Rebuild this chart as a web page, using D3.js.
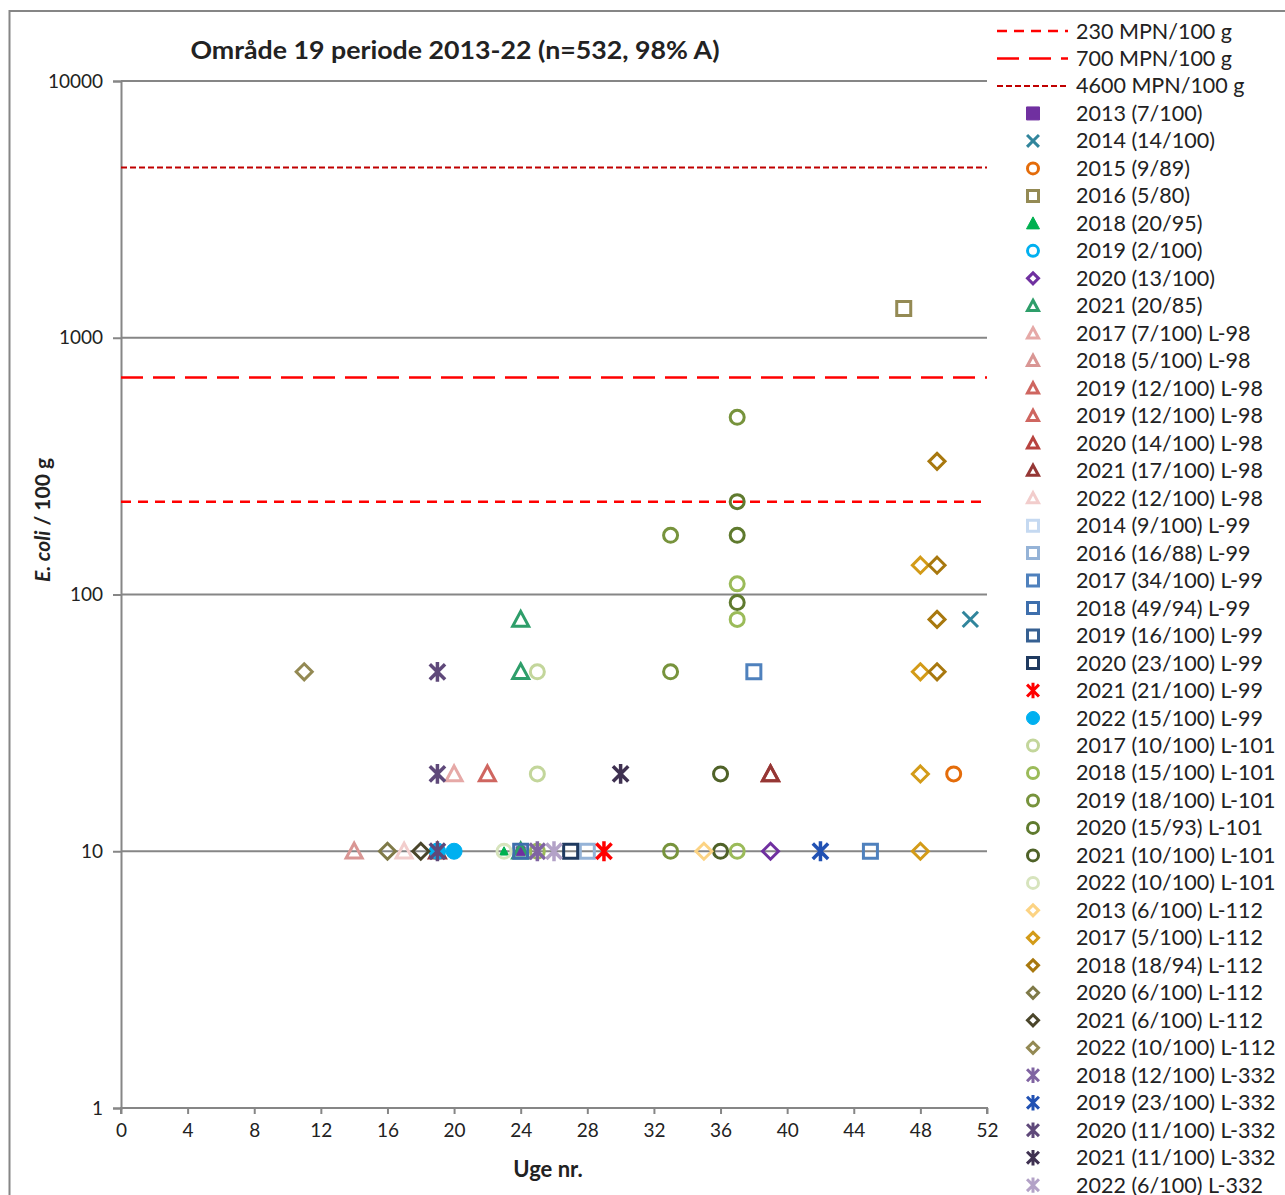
<!DOCTYPE html>
<html>
<head>
<meta charset="utf-8">
<script src="https://cdn.jsdelivr.net/npm/d3@7"></script>
<style>
  body { margin: 0; background: #fff; }
  svg text { font-family: Lato, "Open Sans", sans-serif; fill: #222; }
</style>
</head>
<body>
<svg id="chart" width="1285" height="1195"></svg>
<script>
// threshold lines
var limitLabels = ["230 MPN/100 g", "700 MPN/100 g", "4600 MPN/100 g"];
var limitValues = [230, 700, 4600];

// scatter series (legend order)
var seriesNames = [
  "2013 (7/100)", "2014 (14/100)", "2015 (9/89)", "2016 (5/80)", "2018 (20/95)", "2019 (2/100)",
  "2020 (13/100)", "2021 (20/85)",
  "2017 (7/100) L-98", "2018 (5/100) L-98", "2019 (12/100) L-98", "2019 (12/100) L-98",
  "2020 (14/100) L-98", "2021 (17/100) L-98", "2022 (12/100) L-98",
  "2014 (9/100) L-99", "2016 (16/88) L-99", "2017 (34/100) L-99", "2018 (49/94) L-99",
  "2019 (16/100) L-99", "2020 (23/100) L-99", "2021 (21/100) L-99", "2022 (15/100) L-99",
  "2017 (10/100) L-101", "2018 (15/100) L-101", "2019 (18/100) L-101", "2020 (15/93) L-101",
  "2021 (10/100) L-101", "2022 (10/100) L-101",
  "2013 (6/100) L-112", "2017 (5/100) L-112", "2018 (18/94) L-112", "2020 (6/100) L-112",
  "2021 (6/100) L-112", "2022 (10/100) L-112",
  "2018 (12/100) L-332", "2019 (23/100) L-332", "2020 (11/100) L-332", "2021 (11/100) L-332",
  "2022 (6/100) L-332"
];

var seriesShapes = [
  "squareFill", "x", "circle", "square", "triangleFill", "circle", "diamond", "triangle",
  "triangle", "triangle", "triangle", "triangle", "triangle", "triangle", "triangle",
  "square", "square", "square", "square", "square", "square", "star", "circleFill",
  "circle", "circle", "circle", "circle", "circle", "circle",
  "diamond", "diamond", "diamond", "diamond", "diamond", "diamond",
  "star", "star", "star", "star", "star"
];

var seriesColors = [
  "#7030a0", "#31859c", "#e46c0a", "#948a54", "#00b050", "#00b0f0", "#7030a0", "#2e9e6a",
  "#e6a9a7", "#d99694", "#cf6660", "#cf6660", "#b8433f", "#953735", "#f2cdcc",
  "#c5d9f1", "#95b3d7", "#4f81bd", "#3e6fad", "#366092", "#1f3a60", "#ff0000", "#00b0f0",
  "#c3d69b", "#9bbb59", "#77933c", "#5f7a2e", "#4f6228", "#d7e4bd",
  "#fcd383", "#d39b18", "#a8780e", "#7f7a48", "#4a452a", "#938953",
  "#8064a2", "#2151b3", "#5f497a", "#3f3151", "#b3a2c7"
];

// [week, E. coli per 100 g]
var seriesPoints = [
  [[24, 10]],
  [[51, 80]],
  [[50, 20]],
  [[47, 1300]],
  [[23, 10]],
  [[19, 10]],
  [[39, 10]],
  [[24, 80], [24, 50], [24, 10]],
  [[20, 20]],
  [[14, 10]],
  [[22, 20]],
  [],
  [[39, 20]],
  [[19, 10], [39, 20]],
  [[17, 10]],
  [],
  [[28, 10]],
  [[38, 50], [45, 10]],
  [[24, 10]],
  [],
  [[27, 10]],
  [[29, 10]],
  [[19, 10], [20, 10]],
  [[25, 50], [25, 20]],
  [[37, 110], [37, 80], [37, 10], [25, 10]],
  [[37, 490], [33, 170], [33, 50], [33, 10]],
  [[37, 230], [37, 170], [37, 93]],
  [[36, 20], [36, 10]],
  [[23, 10]],
  [[35, 10]],
  [[48, 130], [48, 50], [48, 20], [48, 10]],
  [[49, 330], [49, 130], [49, 80], [49, 50]],
  [[16, 10]],
  [[18, 10]],
  [[11, 50]],
  [[25, 10]],
  [[42, 10]],
  [[19, 50], [19, 20], [19, 10]],
  [[30, 20]],
  [[26, 10]]
];

var xTicks = [0, 4, 8, 12, 16, 20, 24, 28, 32, 36, 40, 44, 48, 52];
var yTicks = [1, 10, 100, 1000, 10000];

var svg = d3.select("#chart");
var gridColor = "#868686";

var x = d3.scaleLinear().domain([0, 52]).range([121, 987]);
var y = d3.scaleLog().domain([1, 10000]).range([1108, 81]);

// outer frame
svg.append("path")
  .attr("d", "M9.5,1195 L9.5,11 L1285,11")
  .attr("fill", "none")
  .attr("stroke", gridColor)
  .attr("stroke-width", 2);

// gridlines
svg.append("g").selectAll("line")
  .data(yTicks.slice(1))
  .join("line")
  .attr("x1", x(0)).attr("x2", x(52))
  .attr("y1", d => y(d)).attr("y2", d => y(d))
  .attr("stroke", gridColor)
  .attr("stroke-width", 2);

// axes
var yAxis = svg.append("g")
  .attr("transform", "translate(" + x(0) + ",0)")
  .call(d3.axisLeft(y).tickValues(yTicks).tickFormat(d3.format("d")).tickSize(8).tickPadding(10));
var xAxis = svg.append("g")
  .attr("transform", "translate(0," + y(1) + ")")
  .call(d3.axisBottom(x).tickValues(xTicks).tickSize(6).tickSizeOuter(6).tickPadding(10));

[yAxis, xAxis].forEach(function (a) {
  a.select(".domain").attr("stroke", gridColor).attr("stroke-width", 2);
  a.selectAll(".tick line").attr("stroke", gridColor).attr("stroke-width", 2);
  a.selectAll(".tick text").style("font-size", "19px").attr("fill", "#222");
});
xAxis.select(".domain").attr("d", "M" + x(0) + ",6V0H" + x(52) + "V6");

// threshold lines
var limitStyles = [
  { color: "#ff0000", dash: "10,7", width: 2.5 },
  { color: "#ff0000", dash: "22,10", width: 2.5 },
  { color: "#c00000", dash: "6,3", width: 2 }
];

svg.append("g").selectAll("line")
  .data(limitValues)
  .join("line")
  .attr("x1", x(0)).attr("x2", x(52))
  .attr("y1", d => y(d)).attr("y2", d => y(d))
  .attr("stroke", (d, i) => limitStyles[i].color)
  .attr("stroke-dasharray", (d, i) => limitStyles[i].dash)
  .attr("stroke-width", (d, i) => limitStyles[i].width);

// marker shapes
function shapePath(shape, s) {
  var t = s * 0.85;
  switch (shape) {
    case "square": case "squareFill":
      return "M" + (-s) + "," + (-s) + "H" + s + "V" + s + "H" + (-s) + "Z";
    case "diamond":
      return "M0," + (-s) + "L" + s + ",0L0," + s + "L" + (-s) + ",0Z";
    case "triangle": case "triangleFill":
      return "M0," + (-s) + "L" + s + "," + t + "L" + (-s) + "," + t + "Z";
    case "circle": case "circleFill":
      return "M" + s + ",0A" + s + "," + s + " 0 1,1 " + (-s) + ",0A" + s + "," + s + " 0 1,1 " + s + ",0Z";
    case "x":
      return "M" + (-t) + "," + (-t) + "L" + t + "," + t + "M" + t + "," + (-t) + "L" + (-t) + "," + t;
    case "star":
      return "M" + (-t) + "," + (-t) + "L" + t + "," + t + "M" + t + "," + (-t) + "L" + (-t) + "," + t +
        "M0," + (-s * 1.1) + "L0," + (s * 1.1);
  }
}

function isFilled(shape) {
  return shape === "squareFill" || shape === "triangleFill" || shape === "circleFill";
}

function plotSize(i) {
  var shape = seriesShapes[i];
  if (shape === "squareFill" || shape === "triangleFill") return 4.5;
  if (shape === "diamond") return 8;
  if (shape === "triangle") return 8;
  if (shape === "circleFill") return 8;
  if (shape === "star" || shape === "x") return 9;
  return 7;
}

var marks = svg.append("g");
seriesPoints.forEach(function (pts, i) {
  var shape = seriesShapes[i];
  var col = seriesColors[i];
  marks.append("g").selectAll("path")
    .data(pts)
    .join("path")
    .attr("transform", d => "translate(" + x(d[0]) + "," + y(d[1]) + ")")
    .attr("d", shapePath(shape, plotSize(i)))
    .attr("fill", isFilled(shape) ? col : "none")
    .attr("stroke", col)
    .attr("stroke-width", isFilled(shape) ? 1 : (shape === "star" ? 3.5 : 3))
    .attr("stroke-linejoin", "miter");
});

// title
svg.append("text")
  .attr("x", 455).attr("y", 59)
  .attr("text-anchor", "middle")
  .attr("textLength", 529).attr("lengthAdjust", "spacingAndGlyphs")
  .style("font-size", "25px").style("font-weight", "bold")
  .text("Område 19 periode 2013-22 (n=532, 98% A)");

// axis titles
svg.append("text")
  .attr("x", 548).attr("y", 1177)
  .attr("text-anchor", "middle")
  .style("font-size", "22px").style("font-weight", "bold")
  .text("Uge nr.");

var yt = svg.append("text")
  .attr("transform", "translate(50,520) rotate(-90)")
  .attr("text-anchor", "middle")
  .style("font-size", "21px").style("font-weight", "bold");
yt.append("tspan").style("font-style", "italic").text("E. coli");
yt.append("tspan").text(" / 100 g");

// legend
var rowH = 27.48;
var legend = svg.append("g");
limitLabels.forEach(function (lab, i) {
  var cy = 31 + i * rowH;
  legend.append("line")
    .attr("x1", 997).attr("x2", 1068).attr("y1", cy).attr("y2", cy)
    .attr("stroke", limitStyles[i].color)
    .attr("stroke-dasharray", limitStyles[i].dash)
    .attr("stroke-width", limitStyles[i].width);
  legend.append("text")
    .attr("x", 1076).attr("y", cy).attr("dy", "0.35em")
    .style("font-size", "21.5px")
    .text(lab);
});
seriesNames.forEach(function (name, i) {
  var cy = 31 + (i + 3) * rowH;
  var shape = seriesShapes[i];
  var s = isFilled(shape) ? 6.5 : (shape === "star" || shape === "x" ? 7 : 5.5);
  legend.append("path")
    .attr("transform", "translate(1033," + cy + ")")
    .attr("d", shapePath(shape, s))
    .attr("fill", isFilled(shape) ? seriesColors[i] : "none")
    .attr("stroke", seriesColors[i])
    .attr("stroke-width", isFilled(shape) ? 1 : 3);
  legend.append("text")
    .attr("x", 1076).attr("y", cy).attr("dy", "0.35em")
    .style("font-size", "21.5px")
    .text(name);
});
</script>
</body>
</html>
